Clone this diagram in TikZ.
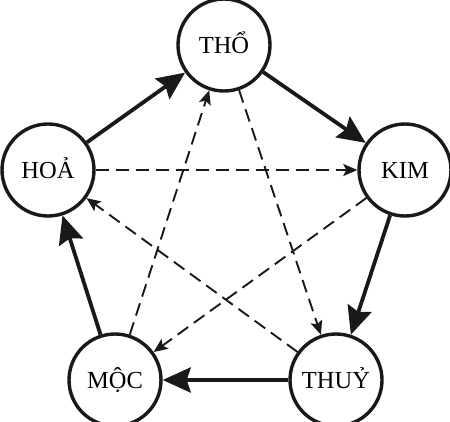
\documentclass[tikz,border=0pt]{standalone}
\usepackage{fontspec}
\setmainfont{Liberation Serif}
\usetikzlibrary{arrows.meta}
\begin{document}
\begin{tikzpicture}[x=1pt,y=-1pt,
  elem/.style={circle,draw=black!90,line width=3.4pt,minimum size=92pt,inner sep=0pt,
    font=\fontsize{24.5}{24.5}\selectfont,text height=16pt,text depth=0pt},
  sinh/.style={line width=3.8pt,draw=black!90,-{Stealth[length=28pt,width=25pt,inset=4pt]}},
  khac/.style={line width=1.9pt,draw=black!90,dash pattern=on 13pt off 7pt,
    -{Stealth[length=14pt,width=12pt,inset=3pt]}}]
\useasboundingbox (0,0) rectangle (450,421);
\node[elem] (tho) at (224,45) {THỔ};
\node[elem] (kim) at (405,170) {KIM};
\node[elem] (thuy) at (336,380) {THUỶ};
\node[elem] (moc) at (115,380) {MỘC};
\node[elem] (hoa) at (48,170) {HOẢ};
\draw[sinh] (hoa) -- (tho);
\draw[sinh] (tho) -- (kim);
\draw[sinh] (kim) -- (thuy);
\draw[sinh] (thuy) -- (moc);
\draw[sinh] (moc) -- (hoa);
\draw[khac] (hoa) -- (kim);
\draw[khac] (kim) -- (moc);
\draw[khac] (moc) -- (tho);
\draw[khac] (tho) -- (thuy);
\draw[khac] (thuy) -- (hoa);
\end{tikzpicture}
\end{document}
